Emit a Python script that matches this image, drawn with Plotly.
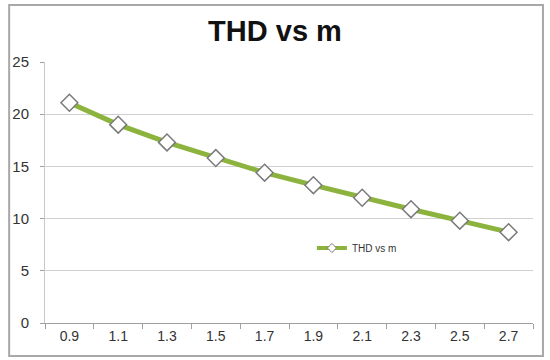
import plotly.graph_objects as go

categories = ["0.9", "1.1", "1.3", "1.5", "1.7", "1.9", "2.1", "2.3", "2.5", "2.7"]
thd = [21.1, 19.0, 17.3, 15.8, 14.4, 13.2, 12.0, 10.9, 9.8, 8.7]
y_ticks = [0, 5, 10, 15, 20, 25]
series_name = "THD vs m"
title_text = "THD vs m"

W, H = 550, 360
L, R, T, B = 43, 17, 62, 37
pw, ph = W - L - R, H - T - B

def px_x(x):
    return (x - L) / pw

def px_y(y):
    return (H - B - y) / ph

green = "#8db33f"

fig = go.Figure()
fig.add_trace(go.Scatter(
    x=categories, y=thd, name=series_name, mode="lines+markers",
    showlegend=False,
    line=dict(color=green, width=5),
    marker=dict(symbol="diamond", size=13, color="white",
                line=dict(color="#7a7a7a", width=1.5)),
))
# legend entry with a smaller symbol, as in the reference
fig.add_trace(go.Scatter(
    x=[None], y=[None], name=series_name, mode="lines+markers",
    showlegend=True,
    line=dict(color=green, width=4),
    marker=dict(symbol="diamond", size=7, color="white",
                line=dict(color="#7a7a7a", width=1)),
))

fig.update_layout(
    width=W, height=H,
    margin=dict(l=L, r=R, t=T, b=B),
    paper_bgcolor="white", plot_bgcolor="white",
    title=dict(text="<b>" + title_text + "</b>", x=0.5, xanchor="center",
               y=1 - 31 / H, yanchor="middle",
               font=dict(family="Liberation Sans, Arial", size=29, color="#111111")),
    showlegend=True,
    legend=dict(x=px_x(311), y=px_y(248), xanchor="left", yanchor="middle",
                bgcolor="rgba(0,0,0,0)",
                font=dict(family="Liberation Sans, Arial", size=10, color="#333333"),
                itemwidth=30),
    xaxis=dict(type="category", range=[-0.5, 9.5], tickson="boundaries",
               ticks="outside", ticklen=5, tickcolor="#a0a0a0",
               showline=True, linecolor="#a0a0a0", linewidth=1,
               showgrid=False,
               tickfont=dict(family="Liberation Sans Narrow, Liberation Sans, Arial", size=14, color="#333333")),
    yaxis=dict(range=[0, 25], tickvals=y_ticks, ticks="outside", ticklen=4,
               tickcolor="#a0a0a0", showline=True, linecolor="#c8c8c8", linewidth=1,
               gridcolor="#d0d0d0", gridwidth=1, zeroline=False,
               ticklabelstandoff=8,
               tickfont=dict(family="Liberation Sans Narrow, Liberation Sans, Arial", size=15, color="#333333")),
    shapes=[dict(type="rect", xref="paper", yref="paper",
                 x0=px_x(7), x1=px_x(543), y0=px_y(356), y1=px_y(5),
                 line=dict(color="#a8a8a8", width=2), layer="below")],
)

fig.write_html("out.html")
